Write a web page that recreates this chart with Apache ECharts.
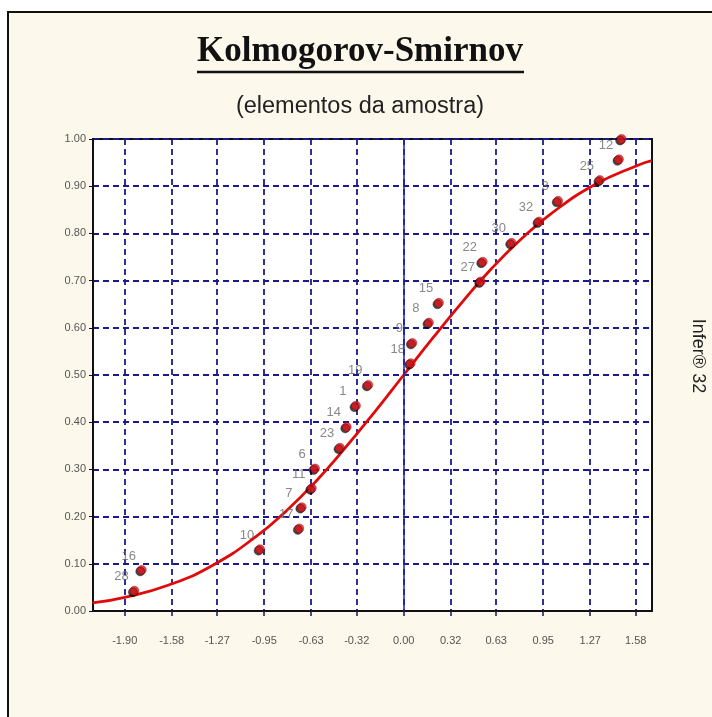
<!DOCTYPE html>
<html>
<head>
<meta charset="utf-8">
<title>Kolmogorov-Smirnov</title>
<script src="https://cdn.jsdelivr.net/npm/echarts@6/dist/echarts.min.js"></script>
<style>
  html, body { margin: 0; padding: 0; background: #fff; }
  #chart { width: 712px; height: 717px; }
</style>
</head>
<body>
<div id="chart"></div>
<script>
// tick labels of the x axis (standardised values)
const xTicks = [-1.90, -1.58, -1.27, -0.95, -0.63, -0.32, 0.00, 0.32, 0.63, 0.95, 1.27, 1.58]
// sample elements: standardised value, empirical cumulative frequency, element number
const sampleX = [-1.834, -1.784, -0.978, -0.711, -0.694, -0.626, -0.604, -0.434, -0.388, -0.325, -0.241,
  0.048, 0.059, 0.172, 0.240, 0.524, 0.538, 0.735, 0.921, 1.052, 1.336, 1.466, 1.484]
const sampleY = [0.043, 0.087, 0.131, 0.175, 0.220, 0.260, 0.302, 0.346, 0.390, 0.435, 0.479,
  0.525, 0.568, 0.611, 0.653, 0.698, 0.740, 0.780, 0.825, 0.869, 0.913, 0.957, 1.000]
const sampleLabels = ['28', '16', '10', '17', '7', '11', '6', '23', '14', '1', '19',
  '18', '9', '8', '15', '27', '22', '30', '32', '3', '25', '12', '']
// theoretical (normal) curve
const curveX = [-2.12, -1.90, -1.60, -1.30, -1.00, -0.80, -0.60, -0.40, -0.20, 0.00,
  0.20, 0.40, 0.60, 0.80, 1.00, 1.30, 1.60, 1.69]
const curveY = [0.017, 0.029, 0.055, 0.097, 0.159, 0.212, 0.274, 0.345, 0.421, 0.500,
  0.579, 0.655, 0.726, 0.788, 0.841, 0.903, 0.945, 0.954]

const chart = echarts.init(document.getElementById('chart'))

const gridColor = '#1a1a8c'
const labelColor = '#555'

const option = {
  backgroundColor: '#fff',
  animation: false,
  graphic: [
    {
      type: 'rect',
      z: -10,
      shape: { x: 8, y: 12, width: 740, height: 740 },
      style: { fill: '#fdf8ec', stroke: '#111', lineWidth: 2 }
    },
    {
      type: 'text',
      x: 360,
      y: 52,
      style: {
        text: 'Kolmogorov-Smirnov',
        font: 'bold 35px "Liberation Serif", serif',
        fill: '#111',
        align: 'center',
        verticalAlign: 'middle'
      }
    },
    {
      type: 'line',
      shape: { x1: 197, y1: 72, x2: 524, y2: 72 },
      style: { stroke: '#111', lineWidth: 2.5 }
    },
    {
      type: 'text',
      x: 360,
      y: 107,
      style: {
        text: '(elementos da amostra)',
        font: '23.5px "Liberation Sans", Arial, sans-serif',
        fill: '#222',
        align: 'center',
        verticalAlign: 'middle'
      }
    },
    {
      type: 'text',
      x: 698,
      y: 356,
      rotation: -Math.PI / 2,
      style: {
        text: 'Infer® 32',
        font: '18px "Liberation Sans", Arial, sans-serif',
        fill: '#222',
        align: 'center',
        verticalAlign: 'middle'
      }
    }
  ],
  grid: {
    left: 93,
    top: 139,
    right: 60,
    bottom: 106,
    containLabel: false,
    show: true,
    backgroundColor: '#fff',
    borderColor: '#111',
    borderWidth: 2
  },
  xAxis: {
    type: 'value',
    min: -2.116,
    max: 1.691,
    axisLine: { onZero: false, lineStyle: { color: '#111', width: 2 } },
    axisTick: { customValues: xTicks, length: 5, lineStyle: { color: '#14145a', width: 1.5 } },
    axisLabel: {
      customValues: xTicks,
      margin: 24,
      color: labelColor,
      fontSize: 11,
      fontFamily: 'Liberation Sans, Arial, sans-serif',
      formatter: v => v.toFixed(2)
    },
    splitLine: { show: true, lineStyle: { color: gridColor, width: 1.8, type: [6, 4] } }
  },
  yAxis: {
    type: 'value',
    min: 0,
    max: 1,
    interval: 0.1,
    axisLine: { show: true, onZero: false, lineStyle: { color: '#111', width: 2 } },
    axisTick: { show: true, length: 4, lineStyle: { color: '#111', width: 1 } },
    axisLabel: {
      margin: 7,
      color: labelColor,
      fontSize: 11,
      fontFamily: 'Liberation Sans, Arial, sans-serif',
      formatter: v => v.toFixed(2)
    },
    splitLine: { show: true, lineStyle: { color: gridColor, width: 1.8, type: [6, 4] } }
  },
  series: [
    {
      name: 'normal',
      type: 'line',
      data: curveX.map((x, i) => [x, curveY[i]]),
      smooth: true,
      showSymbol: false,
      lineStyle: { color: '#e00a0a', width: 2.8 },
      z: 3,
      markLine: {
        silent: true,
        symbol: 'none',
        label: { show: false },
        lineStyle: { color: '#2323a8', width: 1.5, type: 'solid' },
        data: [{ xAxis: 0 }]
      }
    },
    {
      name: 'amostra',
      type: 'scatter',
      data: sampleX.map((x, i) => [x, sampleY[i], sampleLabels[i]]),
      symbol: 'circle',
      symbolSize: 9,
      itemStyle: {
        color: '#e8141a',
        borderColor: '#8a0000',
        borderWidth: 0.5,
        shadowColor: 'rgba(0,0,0,0.9)',
        shadowBlur: 0,
        shadowOffsetX: -1.5,
        shadowOffsetY: 1.5
      },
      label: {
        show: true,
        position: 'inside',
        offset: [-13, -14],
        color: '#6a6a6a',
        fontSize: 13,
        fontFamily: 'Liberation Sans, Arial, sans-serif',
        formatter: p => p.data[2]
      },
      z: 4
    }
  ]
}

chart.setOption(option)
</script>
</body>
</html>
